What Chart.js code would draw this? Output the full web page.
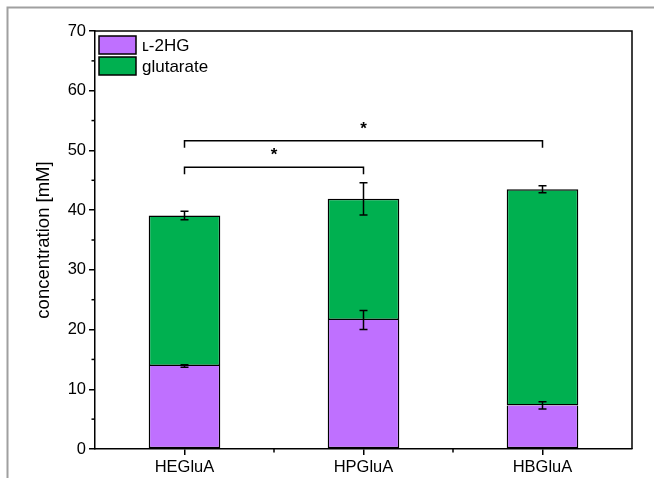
<!DOCTYPE html>
<html>
<head>
<meta charset="utf-8">
<script src="https://cdn.jsdelivr.net/npm/chart.js@4"></script>
<style>
  html, body { margin: 0; padding: 0; background: #fff; }
  #wrap { width: 654px; height: 478px; }
</style>
</head>
<body>
<div id="wrap"><canvas id="ConcChart" width="654" height="478"></canvas></div>
<script>
var categories = ['HEGluA', 'HPGluA', 'HBGluA'];
var l2hg = [13.9, 21.6, 7.3];
var l2hgErr = [0.2, 1.6, 0.6];
var glutarate = [25.2, 20.3, 36.2];
var glutarateErr = [0.7, 2.7, 0.6];
var yTicks = [0, 10, 20, 30, 40, 50, 60, 70];
// significance brackets: from category, to category, height (mM)
var bracketFrom = [0, 0];
var bracketTo = [1, 2];
var bracketY = [47.2, 51.6];
var bracketLabel = ['*', '*'];

var FONT = '"Liberation Sans", Arial, sans-serif';

// gray outer frame, plot box, minor ticks, error bars, brackets, legend
var extras = {
	id: 'extras',
	beforeDraw: function(chart) {
		var c = chart.ctx;
		c.save();
		c.strokeStyle = '#a0a0a0';
		c.lineWidth = 2;
		c.beginPath();
		c.moveTo(7.5, 478);
		c.lineTo(7.5, 7.5);
		c.lineTo(654, 7.5);
		c.stroke();
		c.restore();
	},
	afterDraw: function(chart) {
		var c = chart.ctx;
		var a = chart.chartArea;
		var x = chart.scales.x, y = chart.scales.y;
		c.save();
		c.strokeStyle = '#000';
		c.lineWidth = 1.5;
		// top + right frame
		c.beginPath();
		c.moveTo(a.left, a.top);
		c.lineTo(a.right, a.top);
		c.lineTo(a.right, a.bottom);
		c.stroke();
		// minor y ticks
		for (var v = 5; v < 70; v += 10) {
			var py = y.getPixelForValue(v);
			c.beginPath();
			c.moveTo(a.left - 3.5, py);
			c.lineTo(a.left, py);
			c.stroke();
		}
		// minor x ticks between categories
		for (var i = 0; i < categories.length - 1; i++) {
			var px = (x.getPixelForValue(i) + x.getPixelForValue(i + 1)) / 2;
			c.beginPath();
			c.moveTo(px, a.bottom);
			c.lineTo(px, a.bottom + 3.5);
			c.stroke();
		}
		// error bars
		function errBar(px, val, err) {
			var t = y.getPixelForValue(val + err), b = y.getPixelForValue(val - err);
			c.beginPath();
			c.moveTo(px, t); c.lineTo(px, b);
			c.moveTo(px - 4, t); c.lineTo(px + 4, t);
			c.moveTo(px - 4, b); c.lineTo(px + 4, b);
			c.stroke();
		}
		for (var k = 0; k < categories.length; k++) {
			var cx = x.getPixelForValue(k);
			errBar(cx, l2hg[k], l2hgErr[k]);
			errBar(cx, l2hg[k] + glutarate[k], glutarateErr[k]);
		}
		// significance brackets
		c.fillStyle = '#000';
		c.font = 'bold 17px ' + FONT;
		c.textAlign = 'center';
		c.textBaseline = 'middle';
		for (var b = 0; b < bracketY.length; b++) {
			var x1 = x.getPixelForValue(bracketFrom[b]);
			var x2 = x.getPixelForValue(bracketTo[b]);
			var by = y.getPixelForValue(bracketY[b]);
			c.beginPath();
			c.moveTo(x1, by + 7);
			c.lineTo(x1, by);
			c.lineTo(x2, by);
			c.lineTo(x2, by + 7);
			c.stroke();
			c.fillText(bracketLabel[b], (x1 + x2) / 2, by - 12);
		}
		// legend
		c.font = '17px ' + FONT;
		c.textAlign = 'left';
		var ds = chart.data.datasets;
		for (var d = 0; d < ds.length; d++) {
			var lx = a.left + 4, ly = a.top + 5 + d * 21;
			c.fillStyle = ds[d].backgroundColor;
			c.fillRect(lx, ly, 37, 18);
			c.strokeRect(lx, ly, 37, 18);
			c.fillStyle = '#000';
			c.fillText(ds[d].label, lx + 43, ly + 10);
		}
		c.restore();
	}
};

var ctx = ConcChart.getContext('2d');
var config = {
	type: 'bar',
	data: {
		labels: categories,
		datasets: [{
			label: 'ʟ-2HG',
			data: l2hg,
			backgroundColor: '#bf70ff',
			borderColor: '#000',
			borderWidth: 1.5,
			borderSkipped: 'top'
		}, {
			label: 'glutarate',
			data: glutarate,
			backgroundColor: '#00b050',
			borderColor: '#000',
			borderWidth: 1.5,
			borderSkipped: false
		}]
	},
	options: {
		responsive: false,
		animation: false,
		layout: { padding: { left: 8, top: 31, right: 22, bottom: 0 } },
		plugins: { legend: { display: false }, tooltip: { enabled: false } },
		datasets: { bar: { categoryPercentage: 1, barPercentage: 0.4 } },
		scales: {
			x: {
				stacked: true,
				offset: true,
				grid: { display: true, offset: false, drawOnChartArea: false, drawTicks: true, tickLength: 6, color: '#000', lineWidth: 1.5 },
				border: { display: true, color: '#000', width: 1.5 },
				ticks: { color: '#000', font: { family: FONT, size: 16.5 }, padding: 3 },
				afterFit: function(s) { s.height = 29; }
			},
			y: {
				stacked: true,
				min: 0,
				max: 70,
				afterBuildTicks: function(s) { s.ticks = yTicks.map(function(v) { return { value: v }; }); },
				grid: { display: true, drawOnChartArea: false, drawTicks: true, tickLength: 6, color: '#000', lineWidth: 1.5 },
				border: { display: true, color: '#000', width: 1.5 },
				ticks: { color: '#000', font: { family: FONT, size: 16.5 }, padding: 3 },
				title: { display: true, text: 'concentration [mM]', color: '#000', font: { family: FONT, size: 18.5 }, padding: { top: 25, bottom: 0 } },
				afterFit: function(s) { s.width = 87; }
			}
		}
	},
	plugins: [extras]
};

var chart = new Chart(ctx, config);
</script>
</body>
</html>
